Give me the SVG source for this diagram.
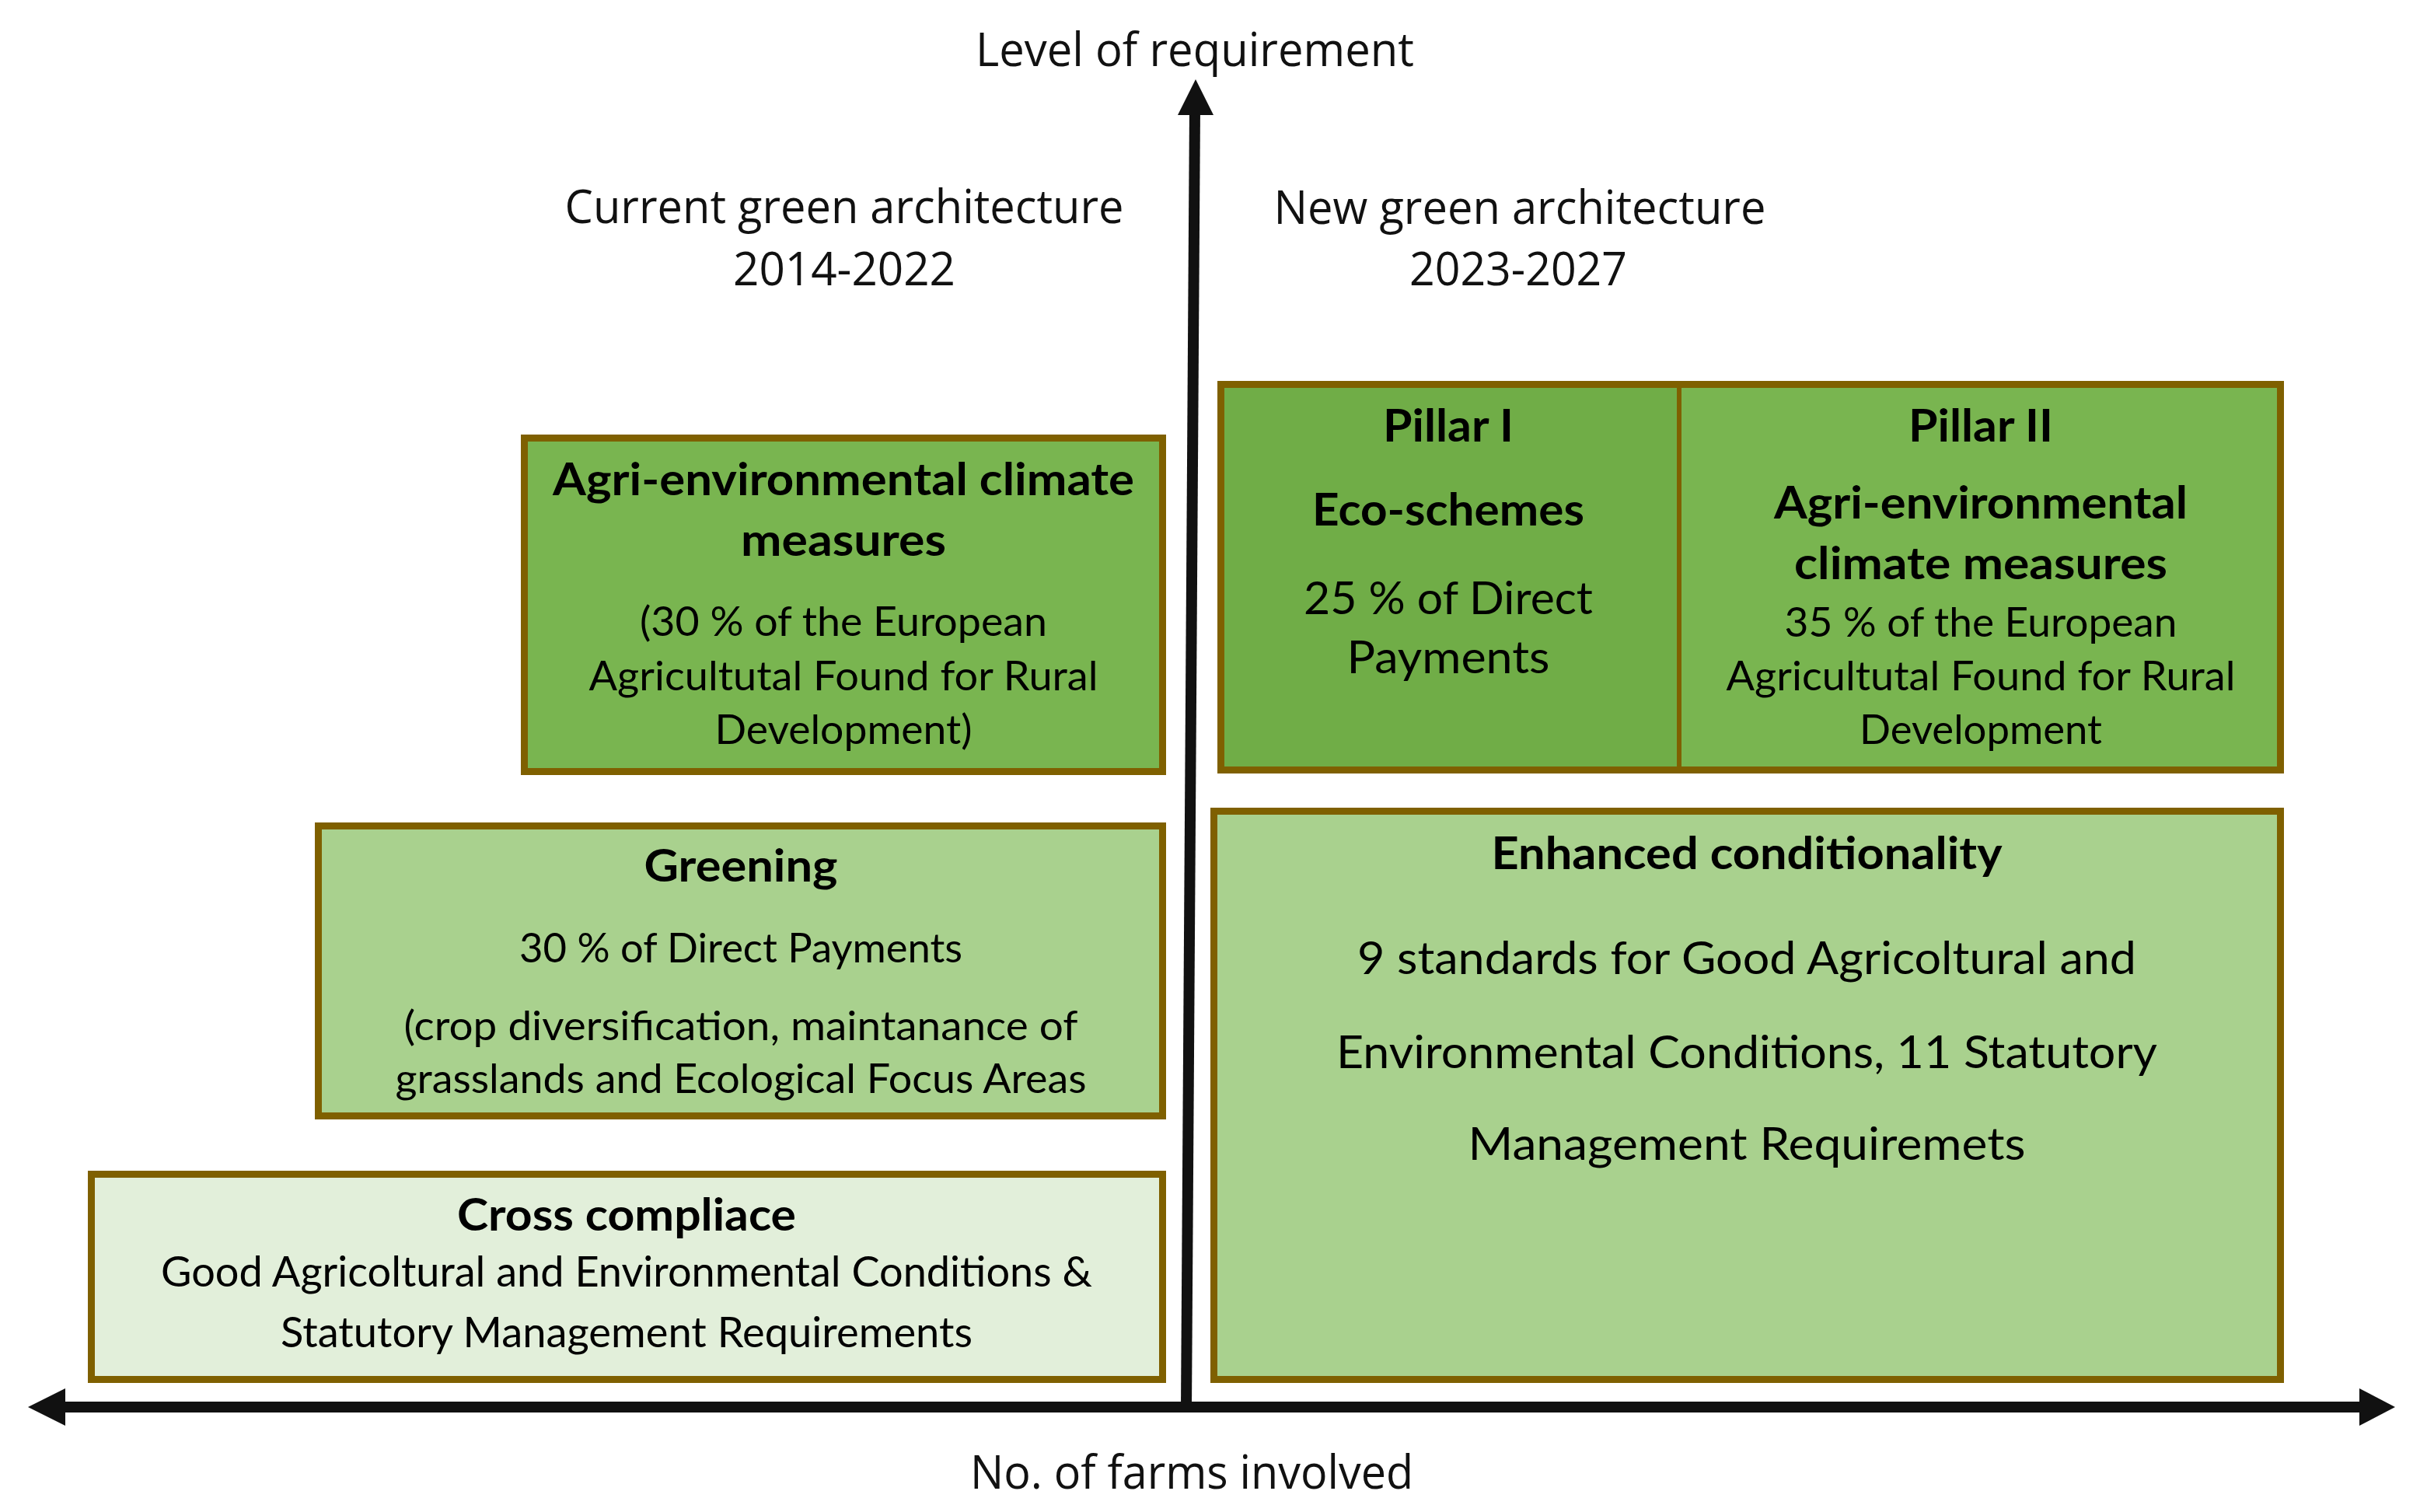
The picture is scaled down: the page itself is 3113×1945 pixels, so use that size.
<svg xmlns="http://www.w3.org/2000/svg" width="3113" height="1945" viewBox="0 0 3113 1945">
<style>
.hdr{font-family:"Open Sans","Noto Sans","Liberation Sans",sans-serif;font-size:60px;fill:#111;text-anchor:middle}
.b{font-family:Lato,"Open Sans","Liberation Sans",sans-serif;font-weight:bold;font-size:58px;fill:#000;text-anchor:middle}
.r{font-family:Lato,"Open Sans","Liberation Sans",sans-serif;font-size:52px;fill:#000;text-anchor:middle}
.r58{font-size:58px}
.r55{font-size:55px}
.box{stroke:#7F6000;stroke-width:9}
.axis{stroke:#111;stroke-width:14;fill:none}
.head{fill:#111}
</style>
<rect width="3113" height="1945" fill="#fff"/>
<g id="labels">
<text class="hdr" x="1537" y="85" textLength="564" lengthAdjust="spacingAndGlyphs">Level of requirement</text>
<text class="hdr" x="1086" y="287" textLength="719" lengthAdjust="spacingAndGlyphs">Current green architecture</text>
<text class="hdr" x="1086" y="367" textLength="286" lengthAdjust="spacingAndGlyphs">2014-2022</text>
<text class="hdr" x="1955" y="288" textLength="633" lengthAdjust="spacingAndGlyphs">New green architecture</text>
<text class="hdr" x="1953" y="367" textLength="280" lengthAdjust="spacingAndGlyphs">2023-2027</text>
<text class="hdr" x="1533" y="1915" textLength="570" lengthAdjust="spacingAndGlyphs">No. of farms involved</text>
</g>
<g id="connectors">
<line class="axis" x1="1526" y1="1812" x2="1537" y2="140"/>
<polygon class="head" points="1538,102 1515,148 1561,148"/>
<line class="axis" x1="80" y1="1810" x2="3040" y2="1810"/>
<polygon class="head" points="36,1810 84,1786 84,1834"/>
<polygon class="head" points="3081,1810 3035,1786 3035,1834"/>
</g>
<g id="node-agri-current">
<rect class="box" x="674.5" y="563.5" width="821" height="429" fill="#79B550"/>
<text class="b" x="1085" y="637" textLength="748" lengthAdjust="spacingAndGlyphs">Agri-environmental climate</text>
<text class="b" x="1085" y="715" textLength="264" lengthAdjust="spacingAndGlyphs">measures</text>
<text class="r" x="1085" y="818" textLength="524" lengthAdjust="spacingAndGlyphs">(30 % of the European</text>
<text class="r" x="1085" y="888" textLength="655" lengthAdjust="spacingAndGlyphs">Agricultutal Found for Rural</text>
<text class="r" x="1085" y="957" textLength="331" lengthAdjust="spacingAndGlyphs">Development)</text>
</g>
<g id="node-pillars">
<rect x="1570" y="494" width="590" height="497" fill="#70AD47"/>
<rect x="2160" y="494" width="774" height="497" fill="#79B550"/>
<rect class="box" x="1570.5" y="494.5" width="1363" height="496" fill="none"/>
<line x1="2160" y1="494" x2="2160" y2="991" stroke="#7F6000" stroke-width="6"/>
<text class="b" x="1863" y="568" textLength="168" lengthAdjust="spacingAndGlyphs">Pillar I</text>
<text class="b" x="1863" y="676" textLength="350" lengthAdjust="spacingAndGlyphs">Eco-schemes</text>
<text class="r r58" x="1863" y="790" textLength="372" lengthAdjust="spacingAndGlyphs">25 % of Direct</text>
<text class="r r58" x="1863" y="866" textLength="261" lengthAdjust="spacingAndGlyphs">Payments</text>
<text class="b" x="2548" y="568" textLength="186" lengthAdjust="spacingAndGlyphs">Pillar II</text>
<text class="b" x="2548" y="667" textLength="532" lengthAdjust="spacingAndGlyphs">Agri-environmental</text>
<text class="b" x="2548" y="745" textLength="480" lengthAdjust="spacingAndGlyphs">climate measures</text>
<text class="r" x="2548" y="819" textLength="505" lengthAdjust="spacingAndGlyphs">35 % of the European</text>
<text class="r" x="2548" y="888" textLength="655" lengthAdjust="spacingAndGlyphs">Agricultutal Found for Rural</text>
<text class="r" x="2548" y="957" textLength="312" lengthAdjust="spacingAndGlyphs">Development</text>
</g>
<g id="node-greening">
<rect class="box" x="409.5" y="1062.5" width="1086" height="373" fill="#A9D18E"/>
<text class="b" x="953" y="1134" textLength="249" lengthAdjust="spacingAndGlyphs">Greening</text>
<text class="r" x="953" y="1238" textLength="570" lengthAdjust="spacingAndGlyphs">30 % of Direct Payments</text>
<text class="r" x="953" y="1338" textLength="867" lengthAdjust="spacingAndGlyphs">(crop diversification, maintanance of</text>
<text class="r" x="953" y="1406" textLength="889" lengthAdjust="spacingAndGlyphs">grasslands and Ecological Focus Areas</text>
</g>
<g id="node-cross-compliance">
<rect class="box" x="117.5" y="1510.5" width="1378" height="264" fill="#E2EFDA"/>
<text class="b" x="806" y="1583" textLength="436" lengthAdjust="spacingAndGlyphs">Cross compliace</text>
<text class="r r55" x="806" y="1655" textLength="1198" lengthAdjust="spacingAndGlyphs">Good Agricoltural and Environmental  Conditions &amp;</text>
<text class="r r55" x="806" y="1733" textLength="890" lengthAdjust="spacingAndGlyphs">Statutory Management Requirements</text>
</g>
<g id="node-enhanced-conditionality">
<rect class="box" x="1561.5" y="1043.5" width="1372" height="731" fill="#A9D18E"/>
<text class="b" x="2247" y="1118" textLength="657" lengthAdjust="spacingAndGlyphs">Enhanced conditionality</text>
<text class="r r58" x="2247" y="1253" textLength="1002" lengthAdjust="spacingAndGlyphs">9 standards for Good Agricoltural and</text>
<text class="r r58" x="2247" y="1374" textLength="1056" lengthAdjust="spacingAndGlyphs">Environmental Conditions, 11 Statutory</text>
<text class="r r58" x="2247" y="1492" textLength="717" lengthAdjust="spacingAndGlyphs">Management Requiremets</text>
</g>
</svg>
